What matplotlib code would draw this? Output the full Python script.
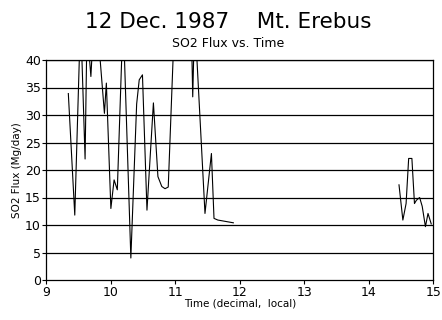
import matplotlib.pyplot as plt
import numpy as np

# SO2 flux record, Mt. Erebus, 12 Dec 1987 (values above 40 run off the top)
time_morning = [9.34, 9.44, 9.53, 9.60, 9.63, 9.69, 9.73, 9.80, 9.90, 9.93,
                10.00, 10.05, 10.10, 10.19, 10.31, 10.40, 10.44, 10.49, 10.56,
                10.66, 10.73, 10.79, 10.84, 10.89, 10.99, 11.25, 11.27, 11.30,
                11.46, 11.56, 11.60, 11.66, 11.90]
flux_morning = [33.9, 11.8, 48.0, 22.0, 46.0, 37.0, 46.0, 45.0, 30.3, 35.8,
                13.0, 18.2, 16.4, 48.0, 4.0, 32.0, 36.4, 37.3, 12.7,
                32.2, 18.8, 17.0, 16.6, 16.9, 48.0, 45.0, 33.3, 48.0,
                12.1, 23.0, 11.2, 10.9, 10.4]

time_afternoon = [14.47, 14.53, 14.58, 14.62, 14.67, 14.71, 14.74, 14.79,
                  14.83, 14.88, 14.92, 14.97]
flux_afternoon = [17.3, 10.9, 13.9, 22.1, 22.1, 13.9, 14.5, 15.0,
                  13.4, 9.7, 12.1, 10.2]

x_ticks = [9, 10, 11, 12, 13, 14, 15]
y_ticks = [0, 5, 10, 15, 20, 25, 30, 35, 40]

plt.rcParams.update({
    "font.family": "DejaVu Sans",
    "font.size": 9,
})

fig = plt.figure(figsize=(4.42, 3.2), dpi=100)
ax = fig.add_axes([0.105, 0.125, 0.875, 0.6875])

for y in y_ticks[1:]:
    ax.axhline(y, color="black", lw=0.9, zorder=1)

ax.plot(time_morning, flux_morning, color="black", lw=0.8, zorder=2)
ax.plot(time_afternoon, flux_afternoon, color="black", lw=0.8, zorder=2)

ax.set_xlim(9, 15)
ax.set_ylim(0, 40)
ax.set_xticks(x_ticks)
ax.set_yticks(y_ticks)
ax.tick_params(direction="out", length=3, width=0.8, labelsize=9, pad=1)
for s in ax.spines.values():
    s.set_linewidth(0.9)

ax.set_xlabel("Time (decimal,  local)", fontsize=7.5, labelpad=0)
ax.set_ylabel("SO2 Flux (Mg/day)", fontsize=7.5, labelpad=2)

fig.text(0.516, 0.93, "12 Dec. 1987    Mt. Erebus", ha="center", va="center",
         fontsize=15.5)
fig.text(0.516, 0.865, "SO2 Flux vs. Time", ha="center", va="center",
         fontsize=9)

fig.savefig("out.png", dpi=100, facecolor="white")
